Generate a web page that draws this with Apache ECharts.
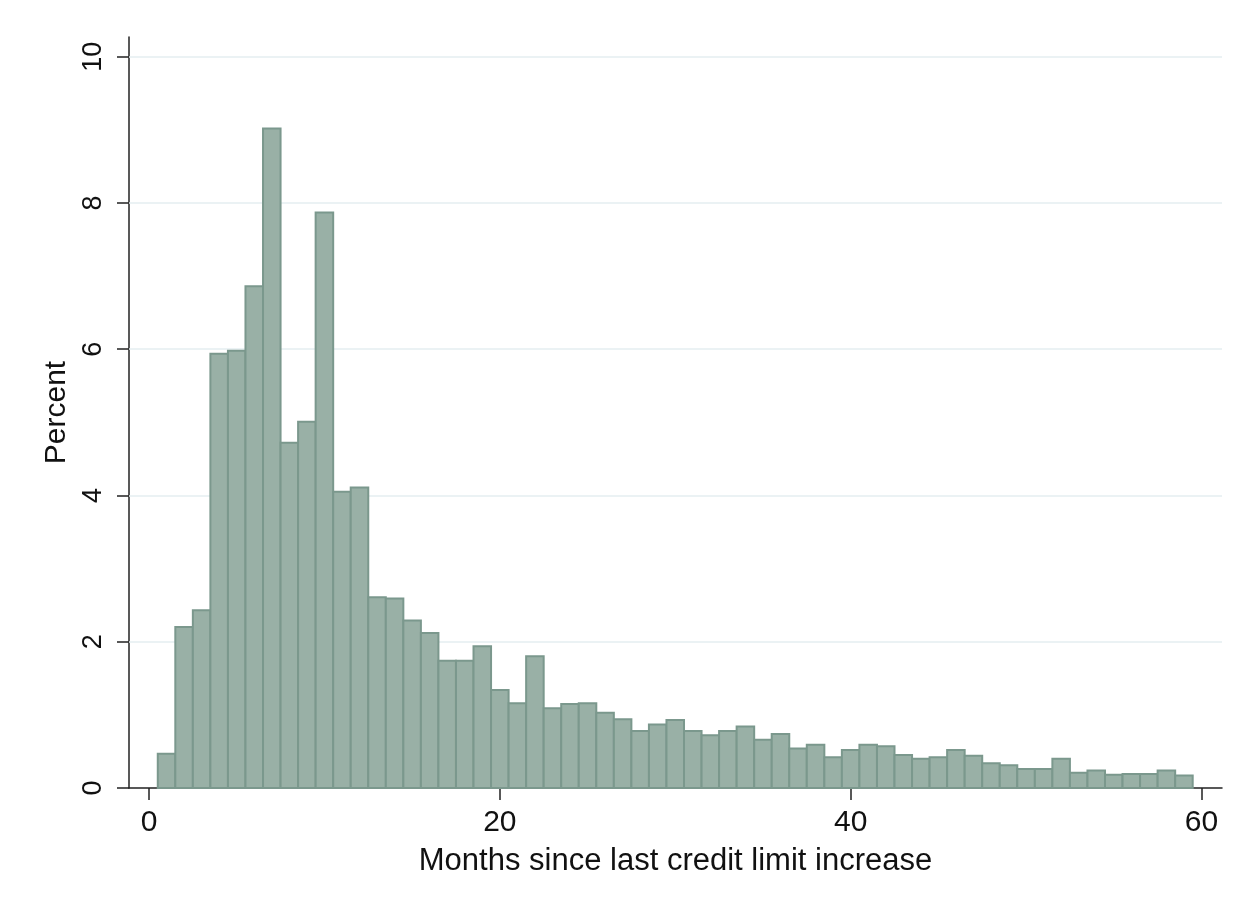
<!DOCTYPE html>
<html>
<head>
<meta charset="utf-8">
<script src="https://cdn.jsdelivr.net/npm/echarts@6/dist/echarts.min.js"></script>
<style>
html,body{margin:0;padding:0;background:#fff;}
#chart{width:1249px;height:909px;}
</style>
</head>
<body>
<div id="chart"></div>
<script>
// Histogram bins (month centers) and percent values
const months = [1,2,3,4,5,6,7,8,9,10,11,12,13,14,15,16,17,18,19,20,21,22,23,24,25,26,27,28,29,30,31,32,33,34,35,36,37,38,39,40,41,42,43,44,45,46,47,48,49,50,51,52,53,54,55,56,57,58,59];
const percent = [0.47,2.20,2.43,5.94,5.98,6.86,9.02,4.72,5.01,7.87,4.05,4.11,2.61,2.59,2.29,2.12,1.74,1.74,1.94,1.34,1.16,1.80,1.09,1.15,1.16,1.03,0.94,0.78,0.87,0.93,0.78,0.72,0.78,0.84,0.66,0.74,0.54,0.59,0.42,0.52,0.59,0.57,0.45,0.40,0.42,0.52,0.44,0.34,0.31,0.26,0.26,0.40,0.21,0.24,0.18,0.19,0.19,0.24,0.17];
const xTicks = [0,20,40,60];
const yTicks = [0,2,4,6,8,10];
const yGridLines = [2,4,6,8,10];
const binWidth = 1;

const chart = echarts.init(document.getElementById('chart'), null, {renderer:'canvas'});
const font = '"Liberation Sans", Arial, Helvetica, sans-serif';
const axisColor = '#222';

const option = {
  backgroundColor: '#ffffff',
  animation: false,
  grid: {left: 129, right: 27, top: 37, bottom: 121, containLabel: false},
  xAxis: {
    type: 'value',
    min: -1.14,
    max: 61.17,
    name: 'Months since last credit limit increase',
    nameLocation: 'middle',
    nameGap: 58,
    nameTextStyle: {fontFamily: font, fontSize: 31, color: '#111'},
    axisLine: {show: true, onZero: false, lineStyle: {color: axisColor, width: 1.5}},
    axisTick: {show: true, length: 12, customValues: xTicks, lineStyle: {color: axisColor, width: 1.5}},
    axisLabel: {show: true, customValues: xTicks, margin: 20, fontFamily: font, fontSize: 30, color: '#111'},
    splitLine: {show: false}
  },
  yAxis: {
    type: 'value',
    min: 0,
    max: 10.27,
    name: 'Percent',
    nameLocation: 'middle',
    nameRotate: 90,
    nameGap: 51,
    nameTextStyle: {fontFamily: font, fontSize: 30, color: '#111'},
    axisLine: {show: true, onZero: false, lineStyle: {color: axisColor, width: 1.5}},
    axisTick: {show: true, length: 12, customValues: yTicks, lineStyle: {color: axisColor, width: 1.5}},
    axisLabel: {show: true, customValues: yTicks, rotate: 90, margin: 22, fontFamily: font, fontSize: 27, color: '#111'},
    splitLine: {show: false}
  },
  series: [
    {
      type: 'line',
      data: [],
      z: 1,
      silent: true,
      markLine: {
        silent: true,
        z: 1,
        symbol: 'none',
        animation: false,
        label: {show: false},
        lineStyle: {color: '#e4eef0', width: 1.5, type: 'solid'},
        data: yGridLines.map(v => ({yAxis: v}))
      }
    },
    {
      type: 'custom',
      z: 3,
      data: months.map((m, i) => [m, percent[i]]),
      renderItem: function (params, api) {
        const x = api.value(0), y = api.value(1);
        const p0 = api.coord([x - binWidth / 2, 0]);
        const p1 = api.coord([x + binWidth / 2, y]);
        return {
          type: 'rect',
          shape: {x: p0[0], y: p1[1], width: p1[0] - p0[0], height: p0[1] - p1[1]},
          style: {fill: '#99b0a6', stroke: '#7b988d', lineWidth: 2}
        };
      }
    }
  ]
};
chart.setOption(option);
</script>
</body>
</html>
